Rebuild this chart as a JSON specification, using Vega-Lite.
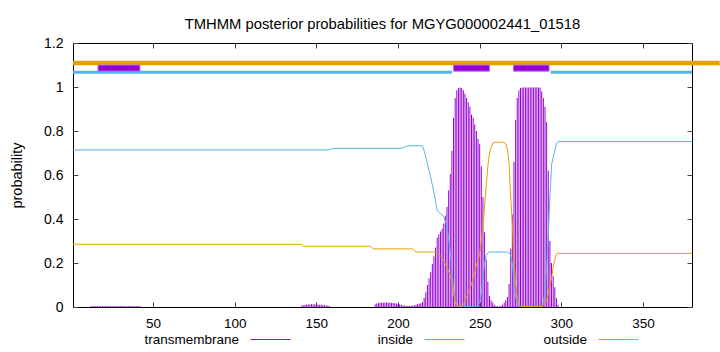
{
  "$schema": "https://vega.github.io/schema/vega-lite/v6.json",
  "width": 619,
  "height": 264,
  "autosize": {"type": "none"},
  "padding": {"left": 73, "top": 43, "right": 28, "bottom": 45},
  "background": "white",
  "config": {
    "font": "Liberation Sans",
    "view": {"stroke": "black", "strokeWidth": 1}
  },
  "title": {"text": "TMHMM posterior probabilities for MGYG000002441_01518", "fontSize": 14.8, "fontWeight": "normal", "color": "black", "offset": 4, "font": "Liberation Sans"},
  "datasets": {
    "tm": [
      {"pos":12,"p":0.004},{"pos":13,"p":0.004},{"pos":14,"p":0.004},{"pos":15,"p":0.004},{"pos":16,"p":0.004},{"pos":17,"p":0.004},{"pos":18,"p":0.004},{"pos":19,"p":0.004},{"pos":20,"p":0.004},{"pos":21,"p":0.004},{"pos":22,"p":0.004},{"pos":23,"p":0.004},{"pos":24,"p":0.004},{"pos":25,"p":0.004},{"pos":26,"p":0.004},{"pos":27,"p":0.004},{"pos":28,"p":0.004},{"pos":29,"p":0.004},{"pos":30,"p":0.004},{"pos":31,"p":0.004},{"pos":32,"p":0.004},{"pos":33,"p":0.004},{"pos":34,"p":0.004},{"pos":35,"p":0.004},{"pos":36,"p":0.004},{"pos":37,"p":0.004},{"pos":38,"p":0.004},{"pos":39,"p":0.004},{"pos":40,"p":0.004},{"pos":41,"p":0.004},{"pos":42,"p":0.004},
      {"pos":141,"p":0.006},{"pos":142,"p":0.008},{"pos":143,"p":0.01},{"pos":144,"p":0.011},{"pos":145,"p":0.012},{"pos":146,"p":0.012},{"pos":147,"p":0.013},{"pos":148,"p":0.012},{"pos":149,"p":0.012},{"pos":150,"p":0.011},{"pos":151,"p":0.011},{"pos":152,"p":0.01},{"pos":153,"p":0.01},{"pos":154,"p":0.009},{"pos":155,"p":0.008},{"pos":156,"p":0.007},{"pos":157,"p":0.006},{"pos":158,"p":0.005},
      {"pos":186,"p":0.012},{"pos":187,"p":0.016},{"pos":188,"p":0.018},{"pos":189,"p":0.019},{"pos":190,"p":0.02},{"pos":191,"p":0.02},{"pos":192,"p":0.02},{"pos":193,"p":0.02},{"pos":194,"p":0.02},{"pos":195,"p":0.019},{"pos":196,"p":0.019},{"pos":197,"p":0.018},{"pos":198,"p":0.017},{"pos":199,"p":0.016},{"pos":200,"p":0.014},{"pos":201,"p":0.012},{"pos":202,"p":0.01},{"pos":203,"p":0.007},{"pos":204,"p":0.006},{"pos":205,"p":0.005},{"pos":206,"p":0.005},{"pos":207,"p":0.005},{"pos":208,"p":0.005},{"pos":209,"p":0.006},{"pos":210,"p":0.008},{"pos":211,"p":0.01},{"pos":212,"p":0.013},{"pos":213,"p":0.015},{"pos":214,"p":0.017},{"pos":215,"p":0.022},
      {"pos":216,"p":0.04},{"pos":217,"p":0.067},{"pos":218,"p":0.1},{"pos":219,"p":0.13},{"pos":220,"p":0.16},{"pos":221,"p":0.195},{"pos":222,"p":0.23},{"pos":223,"p":0.27},{"pos":224,"p":0.315},{"pos":225,"p":0.33},{"pos":226,"p":0.343},{"pos":227,"p":0.355},{"pos":228,"p":0.38},{"pos":229,"p":0.415},{"pos":230,"p":0.455},{"pos":231,"p":0.53},{"pos":232,"p":0.605},{"pos":233,"p":0.71},{"pos":234,"p":0.86},{"pos":235,"p":0.95},{"pos":236,"p":0.985},{"pos":237,"p":0.995},{"pos":238,"p":0.998},{"pos":239,"p":0.995},{"pos":240,"p":0.985},{"pos":241,"p":0.97},{"pos":242,"p":0.95},{"pos":243,"p":0.93},{"pos":244,"p":0.91},{"pos":245,"p":0.875},{"pos":246,"p":0.86},{"pos":247,"p":0.83},{"pos":248,"p":0.8},{"pos":249,"p":0.765},{"pos":250,"p":0.74},{"pos":251,"p":0.64},{"pos":252,"p":0.5},{"pos":253,"p":0.34},{"pos":254,"p":0.215},{"pos":255,"p":0.115},{"pos":256,"p":0.05},{"pos":257,"p":0.03},{"pos":258,"p":0.02},{"pos":259,"p":0.01},{"pos":260,"p":0.004},{"pos":261,"p":0.003},{"pos":262,"p":0.003},{"pos":263,"p":0.004},
      {"pos":264,"p":0.01},{"pos":265,"p":0.02},{"pos":266,"p":0.03},{"pos":267,"p":0.045},{"pos":268,"p":0.105},{"pos":269,"p":0.265},{"pos":270,"p":0.42},{"pos":271,"p":0.66},{"pos":272,"p":0.85},{"pos":273,"p":0.95},{"pos":274,"p":0.985},{"pos":275,"p":0.995},{"pos":276,"p":0.998},{"pos":277,"p":0.998},{"pos":278,"p":0.998},{"pos":279,"p":0.998},{"pos":280,"p":0.998},{"pos":281,"p":0.998},{"pos":282,"p":0.998},{"pos":283,"p":0.998},{"pos":284,"p":0.998},{"pos":285,"p":0.998},{"pos":286,"p":0.998},{"pos":287,"p":0.997},{"pos":288,"p":0.98},{"pos":289,"p":0.95},{"pos":290,"p":0.91},{"pos":291,"p":0.84},{"pos":292,"p":0.62},{"pos":293,"p":0.3},{"pos":294,"p":0.2},{"pos":295,"p":0.14},{"pos":296,"p":0.09},{"pos":297,"p":0.04},{"pos":298,"p":0.01}
    ],
    "lines": [
      {"pos":1,"series":"inside","p":0.714},{"pos":158,"series":"inside","p":0.714},{"pos":160,"series":"inside","p":0.721},{"pos":202,"series":"inside","p":0.721},{"pos":206,"series":"inside","p":0.733},{"pos":215,"series":"inside","p":0.733},{"pos":216,"series":"inside","p":0.71},{"pos":217,"series":"inside","p":0.683},{"pos":218,"series":"inside","p":0.65},{"pos":219,"series":"inside","p":0.62},{"pos":220,"series":"inside","p":0.59},{"pos":221,"series":"inside","p":0.555},{"pos":222,"series":"inside","p":0.52},{"pos":223,"series":"inside","p":0.48},{"pos":224,"series":"inside","p":0.44},{"pos":225,"series":"inside","p":0.43},{"pos":226,"series":"inside","p":0.425},{"pos":227,"series":"inside","p":0.42},{"pos":228,"series":"inside","p":0.41},{"pos":229,"series":"inside","p":0.39},{"pos":230,"series":"inside","p":0.365},{"pos":231,"series":"inside","p":0.31},{"pos":232,"series":"inside","p":0.25},{"pos":233,"series":"inside","p":0.17},{"pos":234,"series":"inside","p":0.08},{"pos":235,"series":"inside","p":0.03},{"pos":236,"series":"inside","p":0.01},{"pos":237,"series":"inside","p":0.002},{"pos":248,"series":"inside","p":0.002},{"pos":249,"series":"inside","p":0.01},{"pos":250,"series":"inside","p":0.02},{"pos":251,"series":"inside","p":0.06},{"pos":252,"series":"inside","p":0.13},{"pos":253,"series":"inside","p":0.2},{"pos":254,"series":"inside","p":0.235},{"pos":255,"series":"inside","p":0.245},{"pos":256,"series":"inside","p":0.25},{"pos":267,"series":"inside","p":0.25},{"pos":268,"series":"inside","p":0.245},{"pos":269,"series":"inside","p":0.235},{"pos":270,"series":"inside","p":0.2},{"pos":271,"series":"inside","p":0.12},{"pos":272,"series":"inside","p":0.05},{"pos":273,"series":"inside","p":0.015},{"pos":274,"series":"inside","p":0.002},{"pos":288,"series":"inside","p":0.002},{"pos":289,"series":"inside","p":0.02},{"pos":290,"series":"inside","p":0.07},{"pos":291,"series":"inside","p":0.18},{"pos":292,"series":"inside","p":0.33},{"pos":293,"series":"inside","p":0.5},{"pos":294,"series":"inside","p":0.645},{"pos":295,"series":"inside","p":0.68},{"pos":296,"series":"inside","p":0.71},{"pos":297,"series":"inside","p":0.745},{"pos":298,"series":"inside","p":0.752},{"pos":380,"series":"inside","p":0.752},
      {"pos":1,"series":"outside","p":0.285},{"pos":141,"series":"outside","p":0.285},{"pos":142,"series":"outside","p":0.276},{"pos":183,"series":"outside","p":0.276},{"pos":185,"series":"outside","p":0.264},{"pos":209,"series":"outside","p":0.264},{"pos":211,"series":"outside","p":0.25},{"pos":223,"series":"outside","p":0.25},{"pos":224,"series":"outside","p":0.245},{"pos":226,"series":"outside","p":0.232},{"pos":227,"series":"outside","p":0.225},{"pos":228,"series":"outside","p":0.21},{"pos":229,"series":"outside","p":0.195},{"pos":230,"series":"outside","p":0.18},{"pos":231,"series":"outside","p":0.16},{"pos":232,"series":"outside","p":0.145},{"pos":233,"series":"outside","p":0.12},{"pos":234,"series":"outside","p":0.06},{"pos":235,"series":"outside","p":0.02},{"pos":236,"series":"outside","p":0.005},{"pos":238,"series":"outside","p":0.002},{"pos":240,"series":"outside","p":0.01},{"pos":242,"series":"outside","p":0.045},{"pos":244,"series":"outside","p":0.08},{"pos":246,"series":"outside","p":0.13},{"pos":248,"series":"outside","p":0.19},{"pos":249,"series":"outside","p":0.215},{"pos":250,"series":"outside","p":0.24},{"pos":251,"series":"outside","p":0.3},{"pos":252,"series":"outside","p":0.37},{"pos":253,"series":"outside","p":0.46},{"pos":254,"series":"outside","p":0.55},{"pos":255,"series":"outside","p":0.64},{"pos":256,"series":"outside","p":0.7},{"pos":257,"series":"outside","p":0.725},{"pos":258,"series":"outside","p":0.745},{"pos":260,"series":"outside","p":0.749},{"pos":265,"series":"outside","p":0.749},{"pos":266,"series":"outside","p":0.74},{"pos":267,"series":"outside","p":0.715},{"pos":268,"series":"outside","p":0.65},{"pos":269,"series":"outside","p":0.5},{"pos":270,"series":"outside","p":0.38},{"pos":271,"series":"outside","p":0.22},{"pos":272,"series":"outside","p":0.1},{"pos":273,"series":"outside","p":0.035},{"pos":274,"series":"outside","p":0.012},{"pos":275,"series":"outside","p":0.002},{"pos":288,"series":"outside","p":0.002},{"pos":289,"series":"outside","p":0.01},{"pos":290,"series":"outside","p":0.02},{"pos":291,"series":"outside","p":0.03},{"pos":292,"series":"outside","p":0.06},{"pos":293,"series":"outside","p":0.09},{"pos":294,"series":"outside","p":0.13},{"pos":295,"series":"outside","p":0.18},{"pos":296,"series":"outside","p":0.215},{"pos":297,"series":"outside","p":0.24},{"pos":298,"series":"outside","p":0.244},{"pos":380,"series":"outside","p":0.244}
    ],
    "topo": [
      {"kind":"outside","start":1,"end":397},
      {"kind":"inside","start":1,"end":233},
      {"kind":"inside","start":293.5,"end":380},
      {"kind":"TMhelix","start":16.3,"end":42},
      {"kind":"TMhelix","start":234,"end":256},
      {"kind":"TMhelix","start":270.7,"end":292.5}
    ]
  },
  "resolve": {"axis": {"x": "independent", "y": "independent"}},
  "layer": [
    {
      "data": {"name": "tm"},
      "mark": {"type": "rule", "strokeWidth": 1},
      "encoding": {
        "x": {"field": "pos", "type": "quantitative",
              "scale": {"domain": [1, 380], "nice": false, "zero": false},
              "axis": {"orient": "bottom", "values": [50,100,150,200,250,300,350], "domain": false, "grid": false,
                       "tickSize": -5, "tickColor": "#444", "labelPadding": 14, "labelFontSize": 13.5, "labelColor": "black", "labelFont": "Liberation Sans", "title": null}},
        "y": {"field": "p", "type": "quantitative",
              "scale": {"domain": [0, 1.2], "nice": false},
              "axis": {"orient": "left", "values": [0,0.2,0.4,0.6,0.8,1,1.2], "format": "~g", "domain": false, "grid": false,
                       "tickSize": -5, "tickColor": "#444", "labelPadding": 15, "labelFontSize": 14, "labelColor": "black", "labelFont": "Liberation Sans",
                       "title": "probability", "titleFontSize": 14.5, "titleFontWeight": "normal", "titleColor": "black", "titleFont": "Liberation Sans", "titlePadding": 19}},
        "y2": {"datum": 0},
        "color": {"datum": "transmembrane", "type": "nominal"}
      }
    },
    {
      "data": {"name": "lines"},
      "mark": {"type": "line", "strokeWidth": 1},
      "encoding": {
        "x": {"field": "pos", "type": "quantitative",
              "axis": {"orient": "top", "values": [50,100,150,200,250,300,350], "domain": false, "grid": false, "labels": false, "tickSize": -5, "tickColor": "#444", "title": null}},
        "y": {"field": "p", "type": "quantitative",
              "axis": {"orient": "right", "values": [0,0.2,0.4,0.6,0.8,1,1.2], "domain": false, "grid": false, "labels": false, "tickSize": -5, "tickColor": "#444", "title": null}},
        "color": {"field": "series", "type": "nominal",
                  "scale": {"domain": ["transmembrane", "inside", "outside"], "range": ["#9400d3", "#56b4e9", "#e69f00"]},
                  "legend": {"orient": "none", "legendX": 177, "legendY": 276, "direction": "horizontal", "columns": 3, "gridAlign": "all", "title": null,
                             "symbolType": "stroke", "symbolSize": 1600, "symbolStrokeWidth": 1, "labelAlign": "right", "labelOffset": -52,
                             "labelFontSize": 13.5, "labelFont": "Liberation Sans", "labelColor": "black", "columnPadding": 76}}
      }
    },
    {
      "data": {"name": "topo"},
      "transform": [{"filter": "datum.kind === 'outside'"}],
      "mark": {"type": "rule", "color": "#e69f00", "strokeWidth": 4.5},
      "encoding": {
        "x": {"field": "start", "type": "quantitative", "axis": null},
        "x2": {"field": "end"},
        "y": {"datum": 1.109, "type": "quantitative", "axis": null}
      }
    },
    {
      "data": {"name": "topo"},
      "transform": [{"filter": "datum.kind === 'inside'"}],
      "mark": {"type": "rule", "color": "#56b4e9", "strokeWidth": 3},
      "encoding": {
        "x": {"field": "start", "type": "quantitative", "axis": null},
        "x2": {"field": "end"},
        "y": {"datum": 1.067, "type": "quantitative", "axis": null}
      }
    },
    {
      "data": {"name": "topo"},
      "transform": [{"filter": "datum.kind === 'TMhelix'"}],
      "mark": {"type": "rect", "color": "#9400d3", "stroke": "#c070ee", "strokeWidth": 1},
      "encoding": {
        "x": {"field": "start", "type": "quantitative", "axis": null},
        "x2": {"field": "end"},
        "y": {"datum": 1.072, "type": "quantitative", "axis": null},
        "y2": {"datum": 1.1}
      }
    }
  ]
}
